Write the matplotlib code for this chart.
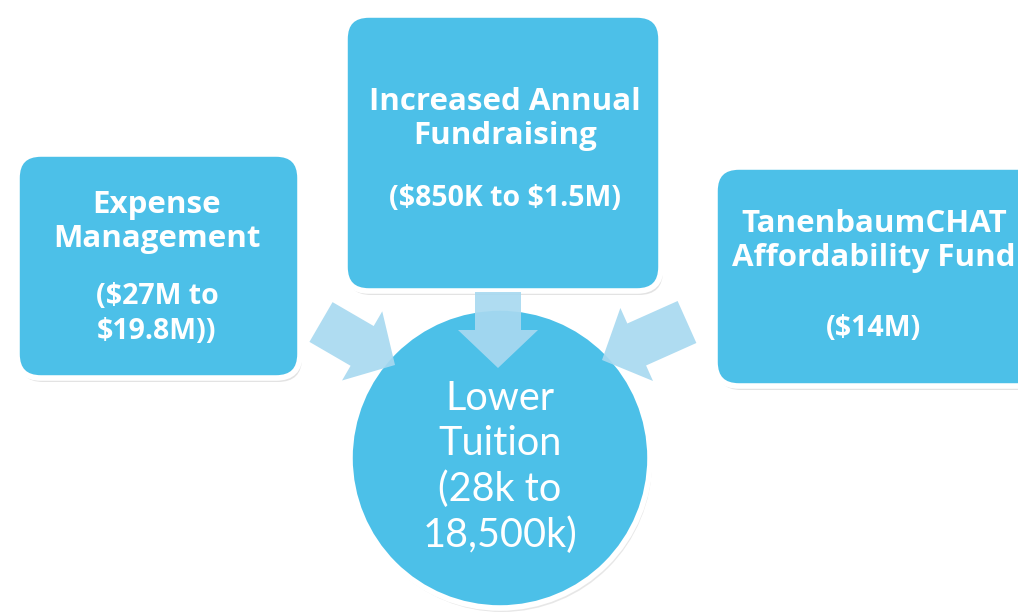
import matplotlib
matplotlib.use("Agg")
import matplotlib.pyplot as plt
from matplotlib.patches import FancyBboxPatch, Circle, FancyArrow

# Diagram text
box_titles = ["Expense\nManagement", "Increased Annual\nFundraising", "TanenbaumCHAT\nAffordability Fund"]
box_amounts = ["($27M to\n$19.8M))", "($850K to $1.5M)", "($14M)"]
goal_text = "Lower\nTuition\n(28k to\n18,500k)"

# Layout in pixel units (y grows downwards)
boxes = [(17, 154, 283, 224), (345, 15, 316, 276), (715, 167, 330, 219)]
title_y = [222, 119, 241]
amount_y = [314, 198, 328]
text_x = [157, 505, 874]
goal_center = (500, 458)
goal_radius = 150
# tail x, tail y, tip x, tip y
arrows = [(321, 322, 395, 365), (498, 292, 498, 368), (687, 322, 602, 360)]

BLUE = "#4cc0e8"
LIGHT = "#a8d9f0"

fig = plt.figure(figsize=(10.18, 6.16), dpi=100)
ax = fig.add_axes([0, 0, 1, 1])
ax.set_xlim(0, 1018)
ax.set_ylim(616, 0)
ax.axis("off")

for (x, y, w, h) in boxes:
    shadow = FancyBboxPatch((x + 2, y + 4), w, h, boxstyle="round,pad=0,rounding_size=24",
                            facecolor="#b0b0b0", edgecolor="none", alpha=0.35, zorder=1)
    ax.add_patch(shadow)
    box = FancyBboxPatch((x, y), w, h, boxstyle="round,pad=0,rounding_size=24",
                         facecolor=BLUE, edgecolor="white", linewidth=4, zorder=2)
    ax.add_patch(box)

for i in range(len(box_titles)):
    ax.text(text_x[i], title_y[i], box_titles[i], ha="center", va="center", color="white",
            fontsize=22.5, fontweight="bold", family="Open Sans", linespacing=1.2, zorder=5,
            parse_math=False)
    ax.text(text_x[i], amount_y[i], box_amounts[i], ha="center", va="center", color="white",
            fontsize=20.5, fontweight="bold", family="Open Sans", linespacing=1.3, zorder=5,
            parse_math=False)

ax.add_patch(Circle((goal_center[0] + 2, goal_center[1] + 4), goal_radius, facecolor="#b0b0b0",
                    edgecolor="none", alpha=0.3, zorder=1))
ax.add_patch(Circle(goal_center, goal_radius, facecolor=BLUE, edgecolor="white", linewidth=4, zorder=2))

for (x0, y0, x1, y1) in arrows:
    arr = FancyArrow(x0, y0, x1 - x0, y1 - y0, width=46, head_width=80, head_length=38,
                     length_includes_head=True, facecolor=LIGHT, edgecolor="none", alpha=0.92, zorder=3)
    ax.add_patch(arr)

ax.text(goal_center[0], 467, goal_text, ha="center", va="center", color="white",
        fontsize=28.5, family="Lato", linespacing=1.28, zorder=5)

fig.savefig("out.png", dpi=100)
